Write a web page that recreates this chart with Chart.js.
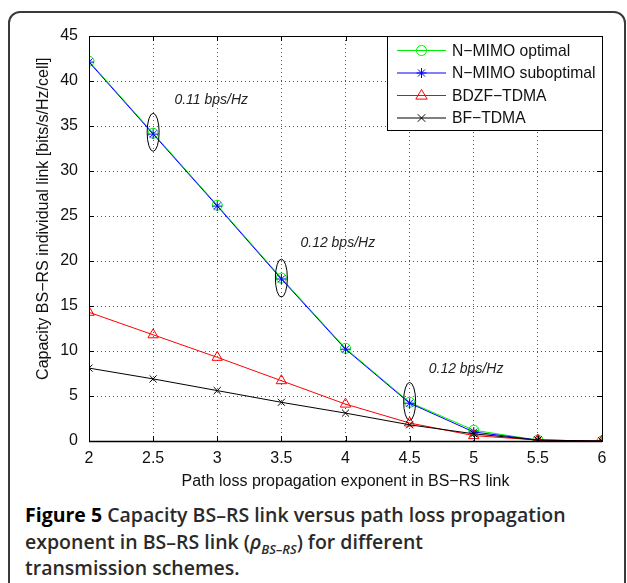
<!DOCTYPE html>
<html>
<head>
<meta charset="utf-8">
<script src="https://cdn.jsdelivr.net/npm/chart.js@4/dist/chart.umd.min.js"></script>
<style>
  html, body { margin: 0; padding: 0; background: #fff; }
  body { width: 627px; height: 583px; position: relative; overflow: hidden; }
  #frame {
    position: absolute; left: 8px; top: 11px; width: 614px; height: 640px;
    border: 2px solid #3a3a3a; border-radius: 12px;
  }
  #wrap { position: absolute; left: 0; top: 0; width: 627px; height: 491px; }
  #caption {
    position: absolute; left: 25px; top: 502px; width: 598px;
    font-family: "Open Sans", sans-serif; font-weight: 600; font-size: 19.5px;
    line-height: 26.5px; color: #2a2a2a; white-space: nowrap;
  }
  #caption .fig { color: #000; font-weight: 700; }
  #caption sub { font-size: 13px; line-height: 0; }
</style>
</head>
<body>
<div id="frame"></div>
<div id="wrap"><canvas id="chart" width="627" height="491"></canvas></div>
<div id="caption"><span class="fig">Figure 5</span> Capacity BS–RS link versus path loss propagation<br>exponent in BS–RS link (<i>ρ</i><sub><i>BS–RS</i></sub>) for different<br>transmission schemes.</div>
<script>
// path loss exponent (x) and capacity [bits/s/Hz/cell] per scheme
const exponents = [2, 2.5, 3, 3.5, 4, 4.5, 5, 5.5, 6];
const nmimoOptimal = [42.2, 34.2, 26.2, 18.1, 10.3, 4.3, 1.2, 0.1, 0.0];
const nmimoSuboptimal = [42.1, 34.1, 26.1, 18.0, 10.2, 4.2, 1.0, 0.1, 0.0];
const bdzfTdma = [14.3, 11.8, 9.3, 6.7, 4.1, 2.0, 0.6, 0.1, 0.0];
const bfTdma = [8.1, 6.9, 5.6, 4.3, 3.1, 1.8, 0.8, 0.1, 0.0];

const seriesLabels = ['N−MIMO optimal', 'N−MIMO suboptimal', 'BDZF−TDMA', 'BF−TDMA'];
const gapLabels = ['0.11 bps/Hz', '0.12 bps/Hz', '0.12 bps/Hz'];
const gapAt = [2.5, 3.5, 4.5];
const yTitle = 'Capacity BS−RS individual link [bits/s/Hz/cell]';

const FONT = "'Liberation Sans', Arial, sans-serif";

function toPoints(ys) {
  return exponents.map((x, i) => ({ x: x, y: ys[i] }));
}

function makeSet(label, ys, color, style, radius, order) {
  return {
    label: label,
    data: toPoints(ys),
    borderColor: color,
    backgroundColor: 'rgba(0,0,0,0)',
    borderWidth: 1,
    pointStyle: style,
    pointRadius: radius,
    pointBorderColor: color,
    pointBorderWidth: 1,
    pointBackgroundColor: 'rgba(0,0,0,0)',
    tension: 0,
    order: order
  };
}

function marker(ctx, style, x, y, r, color) {
  ctx.save();
  ctx.strokeStyle = color;
  ctx.lineWidth = 1;
  ctx.beginPath();
  if (style === 'circle') {
    ctx.arc(x, y, r, 0, Math.PI * 2);
  } else if (style === 'triangle') {
    ctx.moveTo(x, y - r);
    ctx.lineTo(x + r * 0.95, y + r * 0.6);
    ctx.lineTo(x - r * 0.95, y + r * 0.6);
    ctx.closePath();
  } else if (style === 'star') {
    for (let k = 0; k < 4; k++) {
      let a = k * Math.PI / 4;
      ctx.moveTo(x - r * Math.cos(a), y - r * Math.sin(a));
      ctx.lineTo(x + r * Math.cos(a), y + r * Math.sin(a));
    }
  } else if (style === 'crossRot') {
    let d = r * 0.75;
    ctx.moveTo(x - d, y - d); ctx.lineTo(x + d, y + d);
    ctx.moveTo(x + d, y - d); ctx.lineTo(x - d, y + d);
  }
  ctx.stroke();
  ctx.restore();
}

// frame, inward tick marks, y title, legend box and gap notes
const decorations = {
  id: 'decorations',
  afterDatasetsDraw(chart) {
    const ctx = chart.ctx;
    const a = chart.chartArea;
    const xs = chart.scales.x;
    const ys = chart.scales.y;

    // y axis title (sits a little above the plot centre in the figure)
    ctx.save();
    ctx.translate(44, ys.getPixelForValue(24.7));
    ctx.rotate(-Math.PI / 2);
    ctx.fillStyle = '#111';
    ctx.font = '16px ' + FONT;
    ctx.textAlign = 'center';
    ctx.textBaseline = 'middle';
    ctx.fillText(yTitle, 0, 0);
    ctx.restore();

    // gap notes: ellipses round the points and italic labels
    ctx.save();
    ctx.strokeStyle = '#000';
    ctx.lineWidth = 1;
    const gapY = [34.3, 18.1, 4.4];
    gapAt.forEach((gx, i) => {
      ctx.beginPath();
      ctx.ellipse(xs.getPixelForValue(gx), ys.getPixelForValue(gapY[i]), 6, 19, 0, 0, Math.PI * 2);
      ctx.stroke();
    });
    const textPos = [[2.953, 37.9], [3.94, 22.0], [4.94, 8.0]];
    ctx.fillStyle = '#222';
    ctx.font = 'italic 14px ' + FONT;
    ctx.textAlign = 'center';
    ctx.textBaseline = 'middle';
    gapLabels.forEach((t, i) => {
      ctx.fillText(t, xs.getPixelForValue(textPos[i][0]), ys.getPixelForValue(textPos[i][1]));
    });
    ctx.restore();

    // box and inward ticks
    ctx.save();
    ctx.strokeStyle = '#000';
    ctx.lineWidth = 1;
    ctx.strokeRect(Math.round(a.left) + 0.5, Math.round(a.top) + 0.5,
                   Math.round(a.right - a.left), Math.round(a.bottom - a.top));
    ctx.beginPath();
    xs.ticks.forEach(t => {
      let px = Math.round(xs.getPixelForValue(t.value)) + 0.5;
      ctx.moveTo(px, a.bottom); ctx.lineTo(px, a.bottom - 5);
      ctx.moveTo(px, a.top); ctx.lineTo(px, a.top + 5);
    });
    ys.ticks.forEach(t => {
      let py = Math.round(ys.getPixelForValue(t.value)) + 0.5;
      ctx.moveTo(a.left, py); ctx.lineTo(a.left + 5, py);
      ctx.moveTo(a.right, py); ctx.lineTo(a.right - 5, py);
    });
    ctx.stroke();
    // slightly heavier x axis line, as in the figure
    ctx.beginPath();
    ctx.moveTo(a.left, Math.round(a.bottom) + 0.5);
    ctx.lineTo(a.right, Math.round(a.bottom) + 0.5);
    ctx.lineWidth = 1.6;
    ctx.stroke();
    ctx.lineWidth = 1;

    // legend
    const lx = 387, ly = Math.round(a.top) + 0.5, lw = Math.round(a.right) - 387, lh = 94;
    ctx.fillStyle = '#fff';
    ctx.fillRect(lx, ly, lw, lh);
    ctx.strokeRect(lx + 0.5, ly, lw, lh);
    ctx.font = '15.7px ' + FONT;
    ctx.textAlign = 'left';
    ctx.textBaseline = 'middle';
    const legendSets = [0, 1, 2, 3].map(i => chart.data.datasets[i]);
    legendSets.forEach((ds, i) => {
      let yy = ly + 14 + i * 22.5;
      ctx.strokeStyle = ds.borderColor;
      ctx.beginPath();
      ctx.moveTo(397, yy); ctx.lineTo(446, yy);
      ctx.stroke();
      marker(ctx, ds.pointStyle, 421.5, yy, ds.pointRadius, ds.borderColor);
      ctx.fillStyle = '#111';
      ctx.fillText(ds.label, 452, yy + 1);
    });
    ctx.restore();
  }
};

const tickText = v => String(Number(v.toFixed(2)));

const chart = new Chart(document.getElementById('chart'), {
  type: 'line',
  data: {
    datasets: [
      makeSet(seriesLabels[0], nmimoOptimal, '#00ee00', 'circle', 5, 4),
      makeSet(seriesLabels[1], nmimoSuboptimal, '#0000ff', 'star', 5, 3),
      makeSet(seriesLabels[2], bdzfTdma, '#ff0000', 'triangle', 6, 2),
      makeSet(seriesLabels[3], bfTdma, '#000000', 'crossRot', 5, 1)
    ]
  },
  options: {
    responsive: false,
    animation: false,
    events: [],
    layout: { padding: { left: 0, right: 25, top: 36, bottom: 0 } },
    plugins: {
      legend: { display: false },
      tooltip: { enabled: false }
    },
    scales: {
      x: {
        type: 'linear',
        min: 2,
        max: 6,
        afterFit: s => { s.height = 50; },
        ticks: {
          stepSize: 0.5,
          padding: 8,
          color: '#111',
          font: { family: FONT, size: 16 },
          maxRotation: 0,
          callback: tickText
        },
        grid: { color: '#555', lineWidth: 1, drawTicks: false },
        border: { display: false, dash: [1, 3] },
        title: {
          display: true,
          text: 'Path loss propagation exponent in BS−RS link',
          color: '#111',
          font: { family: FONT, size: 16 },
          padding: { top: 0, bottom: 0 }
        }
      },
      y: {
        min: 0,
        max: 45,
        afterFit: s => { s.width = 89; },
        ticks: {
          stepSize: 5,
          padding: 11,
          color: '#111',
          font: { family: FONT, size: 16 },
          callback: tickText
        },
        grid: { color: '#555', lineWidth: 1, drawTicks: false },
        border: { display: false, dash: [1, 3] },
        title: { display: false }
      }
    }
  },
  plugins: [decorations]
});
</script>
</body>
</html>
